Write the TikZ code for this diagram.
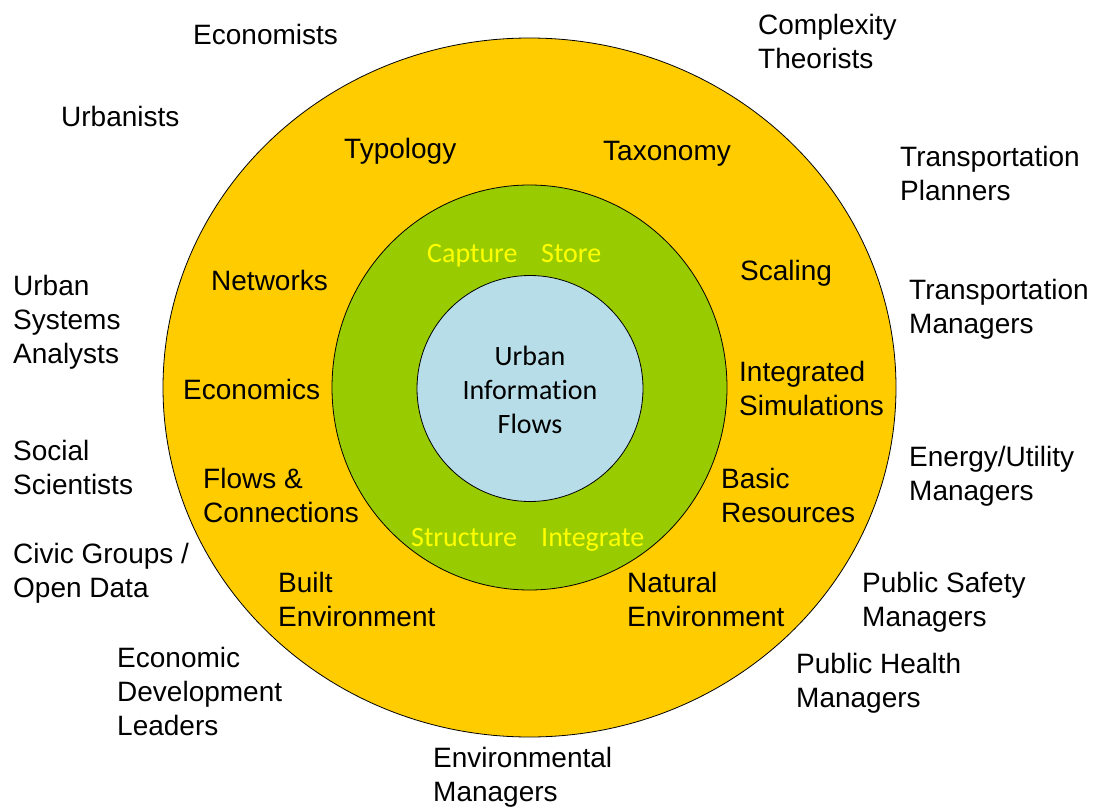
\documentclass[tikz,border=0pt]{standalone}
\usepackage{fontspec}
\setmainfont{Liberation Sans}
\newfontfamily\calib[RawFeature={-liga}]{Carlito}
\usetikzlibrary{shapes.geometric}
\definecolor{ringyellow}{HTML}{FFCC00}
\definecolor{ringgreen}{HTML}{99CC00}
\definecolor{coreblue}{HTML}{B7DEE8}
\definecolor{txtyellow}{HTML}{FFFF00}
\newcommand{\ls}{\rule[-7pt]{0pt}{34pt}}
\tikzset{
  ring/.style={ellipse, draw=black, line width=0.8pt, inner sep=0pt},
  lbl/.style={anchor=west, align=left, inner sep=0pt, font=\fontsize{28}{34}\selectfont},
  glbl/.style={anchor=west, align=left, inner sep=0pt, text=txtyellow, font=\calib\fontsize{28}{34}\selectfont},
  clbl/.style={anchor=center, align=center, inner sep=0pt, font=\calib\fontsize{28}{34}\selectfont}
}
\begin{document}
\begin{tikzpicture}[x=1pt,y=-1pt]
\useasboundingbox (0,0) rectangle (1096,808);
\node[ring, fill=ringyellow, minimum width=733pt, minimum height=699pt] (outer) at (529.5,387.5) {};
\node[ring, fill=ringgreen, minimum width=395pt, minimum height=405pt] (middle) at (529.5,387.5) {};
\node[ring, fill=coreblue, minimum width=226pt, minimum height=226pt] (core) at (530,388.5) {};
% core text
\node[clbl] (uif) at (530,389) {\ls Urban\\\ls Information\\\ls Flows};
% green ring
\node[glbl] (capture) at (427,252) {\ls Capture};
\node[glbl] (store) at (541,252) {\ls Store};
\node[glbl] (structure) at (411,536) {\ls Structure};
\node[glbl] (integrate) at (541,536) {\ls Integrate};
% yellow ring
\node[lbl] (typology) at (344,148) {\ls Typology};
\node[lbl] (taxonomy) at (603,150) {\ls Taxonomy};
\node[lbl] (networks) at (211,280) {\ls Networks};
\node[lbl] (scaling) at (740,270) {\ls Scaling};
\node[lbl] (economics) at (183,389) {\ls Economics};
\node[lbl] (intsim) at (739,388) {\ls Integrated\\\ls Simulations};
\node[lbl] (flows) at (203,495.5) {\ls Flows \&\\\ls Connections};
\node[lbl] (basic) at (721,495.5) {\ls Basic\\\ls Resources};
\node[lbl] (built) at (278,599.5) {\ls Built\\\ls Environment};
\node[lbl] (natural) at (627,599.5) {\ls Natural\\\ls Environment};
% outside
\node[lbl] (economists) at (193,35) {\ls Economists};
\node[lbl] (complexity) at (758,41.5) {\ls Complexity\\\ls Theorists};
\node[lbl] (urbanists) at (61,116) {\ls Urbanists};
\node[lbl] (tplanners) at (900,173.5) {\ls Transportation\\\ls Planners};
\node[lbl] (usa) at (13,319.7) {\ls Urban\\\ls Systems\\\ls Analysts};
\node[lbl] (tmanagers) at (909,306.5) {\ls Transportation\\\ls Managers};
\node[lbl] (social) at (13,467) {\ls Social\\\ls Scientists};
\node[lbl] (energy) at (909,473) {\ls Energy/Utility\\\ls Managers};
\node[lbl] (civic) at (13,570) {\ls Civic Groups /\\\ls Open Data};
\node[lbl] (safety) at (862,599) {\ls Public Safety\\\ls Managers};
\node[lbl] (econdev) at (117,691.3) {\ls Economic\\\ls Development\\\ls Leaders};
\node[lbl] (health) at (796,680) {\ls Public Health\\\ls Managers};
\node[lbl] (envman) at (433,774.5) {\ls Environmental\\\ls Managers};
\end{tikzpicture}
\end{document}
